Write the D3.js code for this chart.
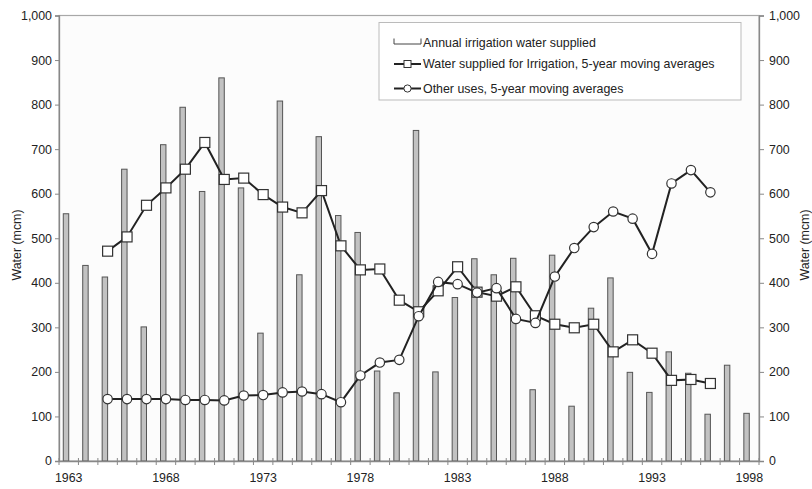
<!DOCTYPE html>
<html><head><meta charset="utf-8">
<script src="https://cdn.jsdelivr.net/npm/d3@7"></script>
<style>
body{margin:0;background:#fff;}
text{font-family:"Liberation Sans",Arial,sans-serif;fill:#222;}
</style></head>
<body><svg id="c" width="812" height="489"></svg>
<script>
const years = [1963,1964,1965,1966,1967,1968,1969,1970,1971,1972,1973,1974,1975,1976,1977,1978,1979,1980,1981,1982,1983,1984,1985,1986,1987,1988,1989,1990,1991,1992,1993,1994,1995,1996,1997,1998];
const annualIrrigation = [555,439,413,655,301,710,794,605,860,613,287,808,418,728,551,513,202,153,742,200,367,454,418,455,160,462,123,343,411,199,154,245,197,105,215,107];
const maYears = [1965,1966,1967,1968,1969,1970,1971,1972,1973,1974,1975,1976,1977,1978,1979,1980,1981,1982,1983,1984,1985,1986,1987,1988,1989,1990,1991,1992,1993,1994,1995,1996];
const irrigationMA = [471,503,574,613,655,715,632,635,598,570,557,607,483,429,431,361,335,382,436,379,370,391,326,307,299,307,245,272,242,181,183,174];
const otherMA = [139,139,139,139,137,137,136,147,148,154,156,150,132,192,221,227,325,402,397,378,388,319,310,414,478,525,560,544,465,623,653,603];
const yTicks = [0,100,200,300,400,500,600,700,800,900,1000];
const xLabels = [1963,1968,1973,1978,1983,1988,1993,1998];
const legendLabels = ["Annual irrigation water supplied","Water supplied for Irrigation, 5-year moving averages","Other uses, 5-year moving averages"];

const FS = "12.4px";
const svg = d3.select("#c");
const L=59, R=759, T=15.5, B=461;
const x = d3.scaleBand().domain(years).range([L,R]).padding(0);
const y = d3.scaleLinear().domain([0,1000]).range([B,T]);
const cx = yr => x(yr) + x.bandwidth()/2;
const fmt = d3.format(",");

// plot background & frame
svg.append("rect").attr("x",L).attr("y",T).attr("width",R-L).attr("height",B-T)
  .attr("fill","#fcfcfc").attr("stroke","#a8a8a8").attr("stroke-width",1.2);

// bars
const barW = x.bandwidth()*0.28;
svg.append("g").selectAll("rect").data(years).join("rect")
  .attr("x",(d)=>cx(d)-barW).attr("width",barW)
  .attr("y",(d,i)=>y(annualIrrigation[i])).attr("height",(d,i)=>B-y(annualIrrigation[i]))
  .attr("fill","#c2c2c2").attr("stroke","#555").attr("stroke-width",1);

// axes
const yl = svg.append("g").attr("transform",`translate(${L},0)`)
  .call(d3.axisLeft(y).tickValues(yTicks).tickFormat(fmt).tickSize(4).tickPadding(3));
const yr = svg.append("g").attr("transform",`translate(${R},0)`)
  .call(d3.axisRight(y).tickValues(yTicks).tickFormat(fmt).tickSize(5).tickPadding(5));
[yl,yr].forEach(g=>{
  g.select(".domain").attr("stroke","#888").attr("stroke-width",1.3);
  g.selectAll(".tick line").attr("stroke","#888");
  g.selectAll("text").style("font-size",FS).attr("fill","#222");
});
const xa = svg.append("g").attr("transform",`translate(0,${B})`)
  .call(d3.axisBottom(x).tickValues(xLabels).tickSize(0).tickPadding(12));
xa.select(".domain").attr("stroke","#888").attr("stroke-width",1.3);
xa.selectAll("text").style("font-size",FS).attr("fill","#222");
// boundary ticks
const bounds = years.map(d=>x(d)).concat([R]);
svg.append("g").selectAll("line").data(bounds).join("line")
  .attr("x1",d=>d).attr("x2",d=>d).attr("y1",B-3).attr("y2",B+4)
  .attr("stroke","#888").attr("stroke-width",1);

// axis titles
svg.append("text").attr("transform","translate(21,245) rotate(-90)")
  .attr("text-anchor","middle").style("font-size",FS).text("Water (mcm)");
svg.append("text").attr("transform","translate(809,245) rotate(-90)")
  .attr("text-anchor","middle").style("font-size",FS).text("Water (mcm)");

// lines
const line = d3.line().x((d,i)=>cx(maYears[i])).y(d=>y(d));
svg.append("path").datum(irrigationMA).attr("d",line)
  .attr("fill","none").attr("stroke","#222").attr("stroke-width",2);
const sq = 10;
svg.append("g").selectAll("rect").data(irrigationMA).join("rect")
  .attr("x",(d,i)=>cx(maYears[i])-sq/2).attr("y",d=>y(d)-sq/2)
  .attr("width",sq).attr("height",sq)
  .attr("fill","#fff").attr("stroke","#333").attr("stroke-width",1.2);

svg.append("path").datum(otherMA).attr("d",line)
  .attr("fill","none").attr("stroke","#222").attr("stroke-width",2);
svg.append("g").selectAll("circle").data(otherMA).join("circle")
  .attr("cx",(d,i)=>cx(maYears[i])).attr("cy",d=>y(d)).attr("r",4.7)
  .attr("fill","#fff").attr("stroke","#333").attr("stroke-width",1.2);

// legend
const lg = svg.append("g");
lg.append("rect").attr("x",379).attr("y",22.5).attr("width",362).attr("height",77.5)
  .attr("fill","#fff").attr("stroke","#bbb").attr("stroke-width",1);
const ly = [42.5,64,88.5];
lg.append("path").attr("d",`M394,${ly[0]-4}V${ly[0]+1.5}H421V${ly[0]-4}`)
  .attr("fill","none").attr("stroke","#444").attr("stroke-width",1);
lg.append("line").attr("x1",394).attr("x2",421).attr("y1",ly[1]).attr("y2",ly[1]).attr("stroke","#222").attr("stroke-width",2);
lg.append("rect").attr("x",404).attr("y",ly[1]-3.5).attr("width",7).attr("height",7).attr("fill","#fff").attr("stroke","#333");
lg.append("line").attr("x1",394).attr("x2",421).attr("y1",ly[2]).attr("y2",ly[2]).attr("stroke","#222").attr("stroke-width",2);
lg.append("circle").attr("cx",407.5).attr("cy",ly[2]).attr("r",3.6).attr("fill","#fff").attr("stroke","#333");
lg.selectAll("text.l").data(legendLabels).join("text").attr("class","l")
  .attr("x",423).attr("y",(d,i)=>ly[i]).attr("dy","0.35em").style("font-size",FS).text(d=>d);
</script></body></html>
